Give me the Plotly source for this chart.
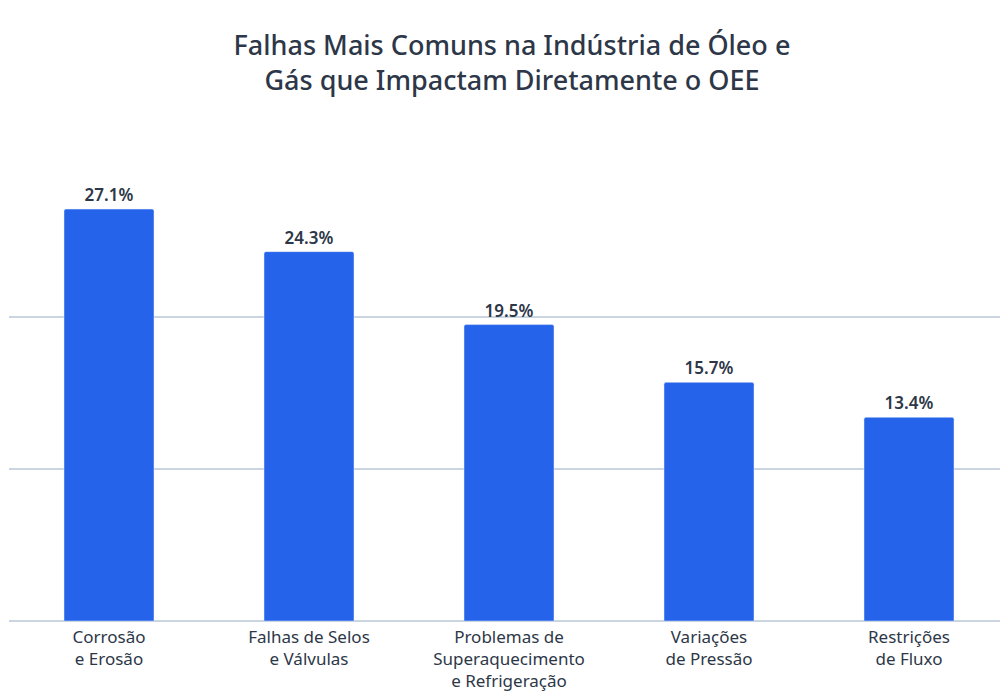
import plotly.graph_objects as go

categories = ["Corrosão<br>e Erosão", "Falhas de Selos<br>e Válvulas",
              "Problemas de<br>Superaquecimento<br>e Refrigeração",
              "Variações<br>de Pressão", "Restrições<br>de Fluxo"]
values = [27.1, 24.3, 19.5, 15.7, 13.4]
labels = [f"{v}%" for v in values]

fig = go.Figure(go.Bar(
    x=categories, y=values, text=labels, textposition="outside",
    marker=dict(color="#2563eb", cornerradius=2),
    textfont=dict(size=17, color="#2d3748", family="Noto Sans", weight=600),
    cliponaxis=False,
))

fig.update_layout(
    width=1008, height=696,
    paper_bgcolor="white", plot_bgcolor="white",
    font=dict(family="Noto Sans", color="#2d3748"),
    title=dict(text="Falhas Mais Comuns na Indústria de Óleo e<br>Gás que Impactam Diretamente o OEE",
               x=0.5, xanchor="center", y=0.932, yanchor="middle",
               font=dict(size=27, color="#2d3748", weight=500)),
    margin=dict(l=1, r=7, t=157, b=83),
    bargap=0.55,
    showlegend=False,
)
fig.update_yaxes(range=[0, 30], tickvals=[0, 10, 20, 30], showticklabels=False,
                 automargin=False,
                 gridcolor="#cbd5e1", gridwidth=2, zeroline=True,
                 zerolinecolor="#cbd5e1", zerolinewidth=2)
fig.update_xaxes(tickfont=dict(size=17, color="#2d3748"), ticks="", ticklabelstandoff=4,
                 automargin=False)

fig.write_html("out.html")
